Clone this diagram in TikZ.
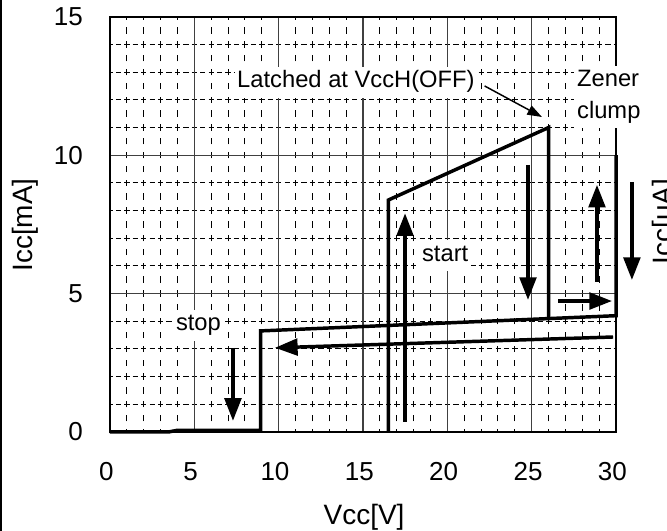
\documentclass[tikz,border=0pt]{standalone}
\usepackage{fontspec}
\setmainfont{Liberation Sans}
\usepackage{tikz}
\usetikzlibrary{arrows.meta}
\usetikzlibrary{positioning}
\tikzset{>=latex}
\tikzstyle{curve} = [line width=2.6pt, line join=miter]
\tikzstyle{flow} = [-{Triangle[length=17pt,width=12.5pt]}, line width=2.6pt]
\tikzstyle{pointer} = [-{Triangle[length=11pt,width=7.5pt]}, line width=1.1pt]
\tikzstyle{note} = [draw=none, fill=white, inner sep=2pt, text height=14pt, text depth=5.25pt]
\tikzstyle{tick} = [draw=none, inner sep=0, font=\fontsize{19.5pt}{23pt}\selectfont]
\tikzstyle{axis title} = [draw=none, inner sep=0, font=\fontsize{21pt}{25pt}\selectfont]
\tikzstyle{vminor} = [line width=0.75pt, dash pattern=on 4.8pt off 5.58pt, dash phase=2.4pt]
\tikzstyle{hminor} = [line width=0.75pt, dash pattern=on 4pt off 2.33pt, dash phase=2pt]
\tikzstyle{major} = [line width=0.8pt, black!75]

\begin{document}
\begin{tikzpicture}[x=12.6525pt, y=20.7525pt, font=\fontsize{17.8pt}{21pt}\selectfont]
\useasboundingbox (-6.52,-3.58) rectangle (33.02,15.61);
\draw [line width=1pt] (-6.46,-3.58) -- (-6.46,15.61);
% grid
\foreach \v in {1,2,3,4,6,7,8,9,11,12,13,14,16,17,18,19,21,22,23,24,26,27,28,29}
  \draw [vminor] (\v,0) -- (\v,15);
\foreach \i in {1,2,3,4,6,7,8,9,11,12,13,14}
  \draw [hminor] (0,\i) -- (30,\i);
\foreach \v in {5,10,...,25}
  \draw [major] (\v,0) -- (\v,15);
\foreach \i in {5,10}
  \draw [major] (0,\i) -- (30,\i);
\draw [line width=1.1pt] (0,0) rectangle (30,15);
\draw [line width=2pt] (0,15) -- (0,0) -- (30,0);
% ticks
\foreach \v in {0,5,...,30}
  \node [tick] (x\v) at (\v-0.22,-1.45) {\v};
\foreach \i in {0,5,10,15}
  \node [tick, anchor=east] (y\i) at (-1.6,\i) {\i};
\node [axis title] (xlab) at (15.06,-3.1) {Vcc[V]};
\node [axis title, rotate=90] (ylab) at (-5.05,7.48) {Icc[mA]};
\node [axis title, rotate=90, anchor=north] (yrlab) at (32.12,7.6) {Icc[uA]};
% Icc curve
\draw [curve] (0,0) -- (3.5,0) -- (4,0.06) -- (8.93,0.06) -- (8.93,3.65) -- (30,4.2) -- (30,10);
\draw [curve] (16.5,0) -- (16.5,8.38) -- (26,11) -- (26,4.1);
% labels
\node [note, anchor=base] (latched) at (14.58,12.43) {Latched at VccH(OFF)};
\node [note, anchor=base west] (zener) at (27.52,12.47) {Zener};
\node [note, anchor=north west] (clump) at (zener.south west) {clump};
\node [note, anchor=base west] (start) at (18.33,6.15) {start};
\node [note, anchor=base west] (stop) at (3.74,3.65) {stop};
\coordinate (peak) at (25.61,11.38);
\draw [pointer, shorten <=6pt] (latched.east) to (peak);
% direction arrows
\coordinate (st0) at (17.49,0.36);
\coordinate (st1) at (17.49,7.9);
\coordinate (dn0) at (24.78,9.65);
\coordinate (dn1) at (24.78,4.77);
\coordinate (up0) at (28.87,5.42);
\coordinate (up1) at (28.87,8.93);
\coordinate (zd0) at (30.94,9.04);
\coordinate (zd1) at (30.94,5.49);
\coordinate (rt0) at (26.56,4.73);
\coordinate (rt1) at (29.76,4.73);
\coordinate (lf0) at (29.82,3.43);
\coordinate (lf1) at (9.78,3.04);
\coordinate (sp0) at (7.29,3.04);
\coordinate (sp1) at (7.29,0.4);
\draw [flow] (st0) to (st1);
\draw [flow] (dn0) to (dn1);
\draw [flow] (up0) to (up1);
\draw [flow] (zd0) to (zd1);
\draw [flow] (rt0) to (rt1);
\draw [flow] (lf0) to (lf1);
\draw [flow] (sp0) to (sp1);
\end{tikzpicture}
\end{document}
